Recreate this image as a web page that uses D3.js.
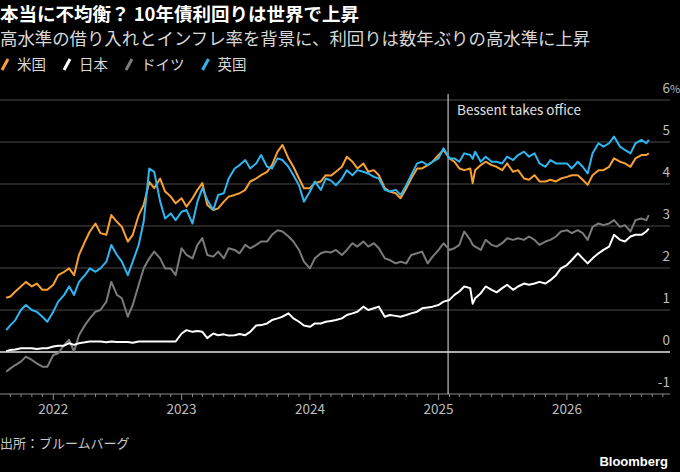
<!DOCTYPE html>
<html>
<head>
<meta charset="utf-8">
<script src="https://cdn.jsdelivr.net/npm/d3@7"></script>
<style>
  body { margin: 0; background: #000; }
  svg { display: block; font-family: "Noto Sans CJK JP", "Noto Sans", sans-serif; }
</style>
</head>
<body>
<svg id="chart" width="680" height="472"></svg>
<script>
// semi-monthly readings, 10y yields in %
const dates = [
  "2021-08-20","2021-09-01","2021-09-15","2021-10-01","2021-10-15","2021-11-01","2021-11-15","2021-12-01","2021-12-15",
  "2022-01-01","2022-01-15","2022-02-01","2022-02-15","2022-03-01","2022-03-15","2022-04-01","2022-04-15",
  "2022-05-01","2022-05-15","2022-06-01","2022-06-15","2022-07-01","2022-07-15","2022-08-01","2022-08-15",
  "2022-09-01","2022-09-15","2022-10-01","2022-10-15","2022-11-01","2022-11-15","2022-12-01","2022-12-15",
  "2023-01-01","2023-01-15","2023-02-01","2023-02-15","2023-03-01","2023-03-15","2023-04-01","2023-04-15",
  "2023-05-01","2023-05-15","2023-06-01","2023-06-15","2023-07-01","2023-07-15","2023-08-01","2023-08-15",
  "2023-09-01","2023-09-15","2023-10-01","2023-10-15","2023-11-01","2023-11-15","2023-12-01","2023-12-15",
  "2024-01-01","2024-01-15","2024-02-01","2024-02-15","2024-03-01","2024-03-15","2024-04-01","2024-04-15",
  "2024-05-01","2024-05-15","2024-06-01","2024-06-15","2024-07-01","2024-07-15","2024-08-01","2024-08-15",
  "2024-09-01","2024-09-15","2024-10-01","2024-10-15","2024-11-01","2024-11-15","2024-12-01","2024-12-15",
  "2025-01-01","2025-01-15","2025-02-01","2025-02-15","2025-03-01","2025-03-15","2025-04-01","2025-04-08","2025-04-15",
  "2025-05-01","2025-05-15","2025-06-01","2025-06-15","2025-07-01","2025-07-15","2025-08-01","2025-08-15",
  "2025-09-01","2025-09-15","2025-10-01","2025-10-15","2025-11-01","2025-11-15","2025-12-01","2025-12-15",
  "2026-01-01","2026-01-15","2026-02-01","2026-02-15","2026-03-01","2026-03-15","2026-04-01","2026-04-15",
  "2026-05-01","2026-05-15","2026-06-01","2026-06-15","2026-07-01","2026-07-15","2026-08-01","2026-08-15","2026-08-22"
];

const us = [
  1.29,1.32,1.44,1.56,1.67,1.56,1.63,1.48,1.48,
  1.60,1.83,1.91,1.99,1.83,2.31,2.63,2.87,3.06,2.83,2.79,3.26,3.10,2.98,2.63,2.79,3.26,3.50,4.05,3.90,4.13,3.82,3.70,3.54,
  3.66,3.46,3.66,3.86,4.02,3.50,3.38,3.42,3.58,3.70,3.74,3.78,3.86,4.06,4.13,4.21,4.29,4.45,4.77,4.93,4.61,4.41,4.13,3.90,
  3.90,4.02,4.06,4.21,4.20,4.29,4.41,4.65,4.53,4.37,4.49,4.29,4.33,4.21,3.90,3.82,3.78,3.66,3.90,4.13,4.37,4.37,4.45,4.53,
  4.69,4.81,4.61,4.53,4.37,4.33,4.37,4.02,4.33,4.45,4.53,4.45,4.41,4.33,4.49,4.29,4.33,4.13,4.10,4.21,4.06,4.06,4.10,4.06,4.13,
  4.17,4.21,4.21,4.10,3.98,4.21,4.33,4.33,4.41,4.61,4.53,4.49,4.41,4.61,4.69,4.69,4.73
];

const japan = [
  0.02,0.05,0.06,0.09,0.09,0.09,0.07,0.09,0.09,
  0.13,0.15,0.15,0.21,0.17,0.21,0.23,0.25,0.25,0.25,0.23,0.25,0.24,0.24,0.24,0.22,0.25,0.25,0.25,0.25,0.25,0.25,0.25,0.25,
  0.44,0.52,0.48,0.50,0.48,0.33,0.44,0.40,0.42,0.39,0.40,0.43,0.40,0.48,0.63,0.64,0.68,0.76,0.80,0.84,0.92,0.80,0.72,0.63,
  0.60,0.68,0.68,0.72,0.74,0.76,0.80,0.88,0.92,0.96,1.08,1.00,1.04,1.08,0.84,0.88,0.86,0.84,0.88,0.92,0.96,1.04,1.06,1.08,
  1.12,1.20,1.24,1.36,1.44,1.56,1.52,1.15,1.28,1.40,1.56,1.48,1.42,1.52,1.60,1.48,1.56,1.63,1.60,1.63,1.67,1.63,1.71,1.83,1.99,
  2.07,2.19,2.35,2.23,2.11,2.23,2.35,2.43,2.51,2.79,2.67,2.63,2.75,2.79,2.79,2.87,2.94
];

const germany = [
  -0.47,-0.39,-0.31,-0.23,-0.11,-0.19,-0.27,-0.35,-0.35,
  -0.07,-0.03,0.17,0.29,0.01,0.40,0.64,0.80,0.96,1.00,1.20,1.67,1.36,1.28,0.84,1.12,1.60,1.99,2.23,2.39,2.23,1.99,1.99,1.83,
  2.47,2.31,2.23,2.55,2.71,2.31,2.27,2.39,2.23,2.47,2.43,2.35,2.55,2.47,2.55,2.63,2.63,2.79,2.90,2.87,2.75,2.63,2.43,2.15,
  1.99,2.23,2.35,2.39,2.37,2.43,2.31,2.43,2.59,2.51,2.63,2.51,2.59,2.47,2.23,2.19,2.11,2.15,2.11,2.31,2.35,2.39,2.11,2.27,
  2.43,2.59,2.43,2.47,2.55,2.87,2.67,2.55,2.51,2.43,2.67,2.55,2.51,2.59,2.71,2.67,2.71,2.67,2.75,2.67,2.55,2.63,2.67,2.75,2.87,
  2.90,2.83,2.90,2.83,2.67,2.98,3.06,3.02,3.06,3.14,2.98,3.02,2.87,3.14,3.18,3.14,3.26
];

const uk = [
  0.52,0.64,0.76,1.00,1.12,1.00,0.96,0.84,0.72,
  0.96,1.20,1.36,1.56,1.36,1.67,1.83,1.99,1.91,1.99,2.15,2.55,2.31,2.15,1.83,2.15,2.55,3.10,4.37,4.29,3.58,3.18,3.30,3.14,
  3.34,3.38,3.06,3.58,3.90,3.62,3.38,3.74,3.78,4.13,4.37,4.45,4.57,4.37,4.49,4.69,4.41,4.37,4.61,4.57,4.41,4.21,3.97,3.58,
  3.82,4.06,3.86,4.13,4.08,3.97,4.13,4.33,4.21,4.33,4.29,4.25,4.17,4.13,3.86,3.82,3.86,3.74,3.97,4.21,4.49,4.53,4.45,4.53,
  4.61,4.85,4.61,4.61,4.53,4.73,4.69,4.60,4.77,4.53,4.65,4.53,4.53,4.49,4.65,4.57,4.69,4.77,4.65,4.73,4.49,4.41,4.57,4.49,4.49,
  4.49,4.37,4.53,4.41,4.25,4.73,4.97,4.89,4.97,5.13,4.89,4.81,4.73,4.97,5.05,4.97,5.05
];

const seriesNames = ["米国", "日本", "ドイツ", "英国"];
const seriesColors = ["#f7a035", "#ffffff", "#7b7b7b", "#2fb6f0"];
const yTicks = [-1, 0, 1, 2, 3, 4, 5, 6];
const yearTicks = ["2022", "2023", "2024", "2025", "2026"];
const bessentDate = "2025-01-28";
const bessentLabel = "Bessent takes office";

const title = "本当に不均衡？ 10年債利回りは世界で上昇";
const subtitle = "高水準の借り入れとインフレ率を背景に、利回りは数年ぶりの高水準に上昇";
const source = "出所：ブルームバーグ";

const parse = d3.timeParse("%Y-%m-%d");
const W = 680, plotRight = 670;

const svg = d3.select("#chart");
svg.append("rect").attr("width", W).attr("height", 472).attr("fill", "#000");

const x = d3.scaleTime()
  .domain([parse("2022-01-01"), parse("2026-01-01")])
  .range([53.3, 566.9]);
const y = d3.scaleLinear().domain([-1, 6]).range([394, 100]);

// header
svg.append("text").attr("x", 0).attr("y", 21)
  .attr("fill", "#fff").attr("font-size", 18.5).attr("font-weight", 700)
  .text(title);
svg.append("text").attr("x", 0).attr("y", 45)
  .attr("fill", "#d8d8d8").attr("font-size", 17.4)
  .text(subtitle);

// legend
let lx = 2;
seriesNames.forEach((name, i) => {
  svg.append("line")
    .attr("x1", lx).attr("y1", 70).attr("x2", lx + 6).attr("y2", 59)
    .attr("stroke", seriesColors[i]).attr("stroke-width", 3);
  const t = svg.append("text").attr("x", lx + 15).attr("y", 70)
    .attr("fill", "#d8d8d8").attr("font-size", 14.5).text(name);
  lx += 15 + t.node().getComputedTextLength() + 18;
});

// gridlines + y labels
yTicks.forEach(v => {
  if (v === -1) return;
  svg.append("line")
    .attr("x1", 0).attr("x2", plotRight).attr("y1", y(v)).attr("y2", y(v))
    .attr("stroke", v === 0 ? "#e6e6e6" : "#4a4a4a")
    .attr("stroke-width", v === 0 ? 1.4 : 1);
});
yTicks.forEach(v => {
  svg.append("text").attr("x", plotRight).attr("y", y(v) - 7)
    .attr("text-anchor", "end").attr("fill", "#bdbdbd").attr("font-size", 13.5)
    .text(v);
});
svg.append("text").attr("x", plotRight).attr("y", y(6) - 7)
  .attr("fill", "#bdbdbd").attr("font-size", 11).text("%");

// x axis
const xAxis = svg.append("g").attr("transform", "translate(0,394)");
xAxis.append("line").attr("x1", 0).attr("x2", plotRight)
  .attr("stroke", "#8a8a8a").attr("stroke-width", 1);
const months = d3.timeMonth.range(x.invert(0), x.invert(plotRight));
xAxis.selectAll(".mt").data(months).join("line")
  .attr("x1", d => x(d)).attr("x2", d => x(d))
  .attr("y1", 0).attr("y2", d => d.getMonth() === 0 ? 6 : 3)
  .attr("stroke", "#8a8a8a").attr("stroke-width", 1);
xAxis.selectAll(".yl").data(yearTicks).join("text")
  .attr("x", d => x(parse(d + "-01-01"))).attr("y", 20)
  .attr("text-anchor", "middle").attr("fill", "#bdbdbd").attr("font-size", 13.5)
  .text(d => d);

// Bessent marker
const bx = x(parse(bessentDate));
svg.append("line").attr("x1", bx).attr("x2", bx).attr("y1", 94).attr("y2", 394)
  .attr("stroke", "#e6e6e6").attr("stroke-width", 1);
svg.append("text").attr("x", bx + 9).attr("y", 115)
  .attr("fill", "#e0e0e0").attr("font-size", 13.5).text(bessentLabel);

// lines
const allSeries = [us, japan, germany, uk];
const line = d3.line()
  .x((d, i) => x(parse(dates[i])))
  .y(d => y(d));
[2, 1, 0, 3].forEach(i => {
  svg.append("path").datum(allSeries[i])
    .attr("d", line)
    .attr("fill", "none")
    .attr("stroke", seriesColors[i])
    .attr("stroke-width", 2)
    .attr("stroke-linejoin", "round");
});

// footer
svg.append("text").attr("x", 0).attr("y", 448)
  .attr("fill", "#c8c8c8").attr("font-size", 13).text(source);
svg.append("text").attr("x", 668).attr("y", 466)
  .attr("text-anchor", "end").attr("fill", "#fff").attr("font-size", 13)
  .attr("font-weight", 700).attr("font-family", "'Liberation Sans', Arial, sans-serif")
  .text("Bloomberg");
</script>
</body>
</html>
